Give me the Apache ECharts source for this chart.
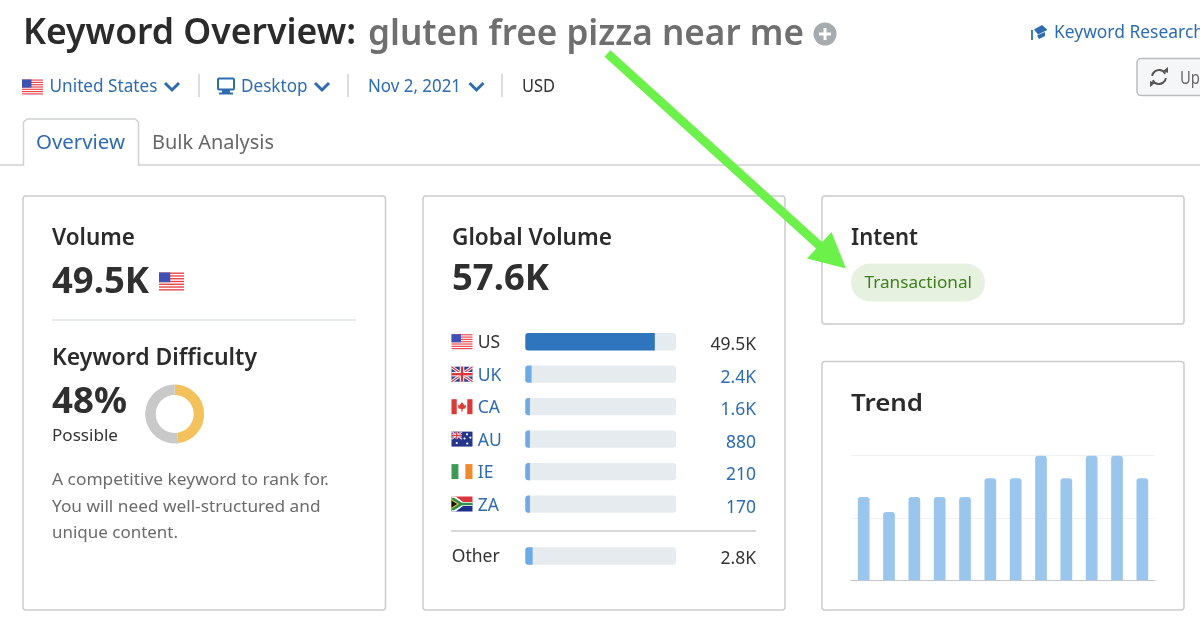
<!DOCTYPE html>
<html>
<head>
<meta charset="utf-8">
<title>Keyword Overview</title>
<script src="https://cdn.jsdelivr.net/npm/echarts@6/dist/echarts.min.js"></script>
<style>
  html, body { margin: 0; padding: 0; background: #fff; }
  #chart { width: 1200px; height: 627px; }
</style>
</head>
<body>
<div id="chart"></div>
<script>
const countries = ['US', 'UK', 'CA', 'AU', 'IE', 'ZA'];
const countryValues = [49500, 2400, 1600, 880, 210, 170];
const countryLabels = ['49.5K', '2.4K', '1.6K', '880', '210', '170'];
const otherName = ['Other'];
const otherValues = [2800];
const otherLabels = ['2.8K'];
const globalTotal = 57600;
const trendValues = [33100, 27100, 33100, 33100, 33100, 40500, 40500, 49500, 40500, 49500, 49500, 40500];
const trendTicks = [0, 24750, 49500];
const difficulty = [48, 52];

const FONT = '"Noto Sans", sans-serif';
const BLUE = '#2d6cb0';
const measure = document.createElement('canvas').getContext('2d');

// text squeezed to the width it has in the reference (no Ubuntu here)
function txt(x, y, text, size, color, weight, width) {
  measure.font = `${weight || 'normal'} ${size}px "Noto Sans"`;
  const scale = width ? width / measure.measureText(text).width : 1;
  return {
    type: 'text', x, y: y + 1.5, scaleX: scale, z: 10, silent: true,
    style: { text, fontSize: size, fontFamily: FONT, fontWeight: weight || 'normal', fill: color, verticalAlign: 'middle', align: 'left' }
  };
}

function box(x, y, w, h, fill, stroke, r, lineWidth) {
  return {
    type: 'rect', z: 1, silent: true,
    shape: { x, y, width: w, height: h, r: r || 0 },
    style: { fill: fill || 'none', stroke: stroke || 'none', lineWidth: lineWidth === undefined ? 1.5 : lineWidth }
  };
}

function seg(x1, y1, x2, y2, color, width, z) {
  return {
    type: 'line', z: z || 2, silent: true,
    shape: { x1, y1, x2, y2 },
    style: { stroke: color, lineWidth: width || 1 }
  };
}

function poly(points, fill, z) {
  return { type: 'polygon', z: z || 3, silent: true, shape: { points }, style: { fill } };
}

function chevron(x, y) {
  return {
    type: 'polyline', z: 3, silent: true,
    shape: { points: [[x, y - 3.5], [x + 7, y + 3.5], [x + 14, y - 3.5]] },
    style: { stroke: BLUE, lineWidth: 3, fill: 'none' }
  };
}

function flag(code, x, y, w, h) {
  const out = [];
  const r = (a, b, c, d, col) => out.push({ type: 'rect', z: 4, silent: true, shape: { x: x + a * w, y: y + b * h, width: c * w, height: d * h }, style: { fill: col } });
  const p = (pts, col) => out.push(poly(pts.map(q => [x + q[0] * w, y + q[1] * h]), col, 5));
  const union = (s) => {
    const l = (a, b, c, d, col, lw) => out.push({ type: 'line', z: 5, silent: true, shape: { x1: x + a * w * s, y1: y + b * h * s, x2: x + c * w * s, y2: y + d * h * s }, style: { stroke: col, lineWidth: lw * s } });
    l(0, 0, 1, 1, '#fff', 3); l(1, 0, 0, 1, '#fff', 3);
    l(0, 0, 1, 1, '#d8353f', 1.2); l(1, 0, 0, 1, '#d8353f', 1.2);
    l(0.5, 0, 0.5, 1, '#fff', 4.5); l(0, 0.5, 1, 0.5, '#fff', 4.5);
    l(0.5, 0, 0.5, 1, '#d8353f', 2.4); l(0, 0.5, 1, 0.5, '#d8353f', 2.4);
  };
  if (code === 'US') {
    r(0, 0, 1, 1, '#fff');
    for (let i = 0; i < 7; i++) r(0, i * 2 / 13, 1, 1 / 13, '#e8424a');
    r(0, 0, 0.45, 0.54, '#3f51b5');
  } else if (code === 'UK') {
    r(0, 0, 1, 1, '#2b3f8c');
    union(1);
  } else if (code === 'CA') {
    r(0, 0, 1, 1, '#fff');
    r(0, 0, 0.25, 1, '#dc3a36'); r(0.75, 0, 0.25, 1, '#dc3a36');
    p([[0.5, 0.18], [0.62, 0.42], [0.7, 0.38], [0.66, 0.62], [0.53, 0.66], [0.53, 0.82], [0.47, 0.82], [0.47, 0.66], [0.34, 0.62], [0.3, 0.38], [0.38, 0.42]], '#dc3a36');
  } else if (code === 'AU') {
    r(0, 0, 1, 1, '#24368c');
    union(0.5);
    [[0.25, 0.76], [0.74, 0.18], [0.9, 0.4], [0.62, 0.46], [0.75, 0.8]].forEach(s => {
      out.push({ type: 'circle', z: 6, silent: true, shape: { cx: x + s[0] * w, cy: y + s[1] * h, r: 1.1 }, style: { fill: '#fff' } });
    });
  } else if (code === 'IE') {
    r(0, 0, 0.34, 1, '#3c9a55'); r(0.34, 0, 0.32, 1, '#fff'); r(0.66, 0, 0.34, 1, '#f08a2e');
  } else if (code === 'ZA') {
    r(0, 0, 1, 0.5, '#d8353f'); r(0, 0.5, 1, 0.5, '#1d2f8c');
    p([[0, 0], [0.2, 0], [0.55, 0.36], [1, 0.36], [1, 0.64], [0.55, 0.64], [0.2, 1], [0, 1]], '#fff');
    p([[0, 0.08], [0.12, 0.08], [0.5, 0.42], [1, 0.42], [1, 0.58], [0.5, 0.58], [0.12, 0.92], [0, 0.92]], '#2f8f4e');
    p([[0, 0.18], [0.36, 0.5], [0, 0.82]], '#f2c230');
    p([[0, 0.27], [0.27, 0.5], [0, 0.73]], '#111');
  }
  return out;
}

const rowCentres = [341.7, 374.2, 406.7, 439.1, 471.6, 504];

const elements = [
  // page header
  txt(23, 32, 'Keyword Overview:', 36, '#2b2b2b', '600', 333),
  txt(368, 33, 'gluten free pizza near me', 36, '#6f6f6f', '600', 436),
  { type: 'circle', z: 3, silent: true, shape: { cx: 825, cy: 34, r: 11.5 }, style: { fill: '#a6abaf' } },
  seg(819, 34, 831, 34, '#fff', 3, 4),
  seg(825, 28, 825, 40, '#fff', 3, 4),

  // keyword research link
  poly([[1034, 29.5], [1042, 25], [1047.5, 30], [1038, 34.5]], BLUE),
  poly([[1037, 35.5], [1045, 32], [1045, 36], [1039, 39]], BLUE),
  seg(1032, 30, 1032, 40, BLUE, 1.8, 3),
  txt(1054, 31, 'Keyword Research', 18, BLUE, 'normal', 150),

  // update button, cut off by the right edge
  box(1137, 58.5, 80, 37, '#f5f6f7', '#b9bcbf', 4),
  { type: 'arc', z: 3, silent: true, shape: { cx: 1159, cy: 77, r: 7, startAngle: Math.PI * 1.05, endAngle: Math.PI * 1.85 }, style: { stroke: '#555', lineWidth: 2, fill: 'none' } },
  { type: 'arc', z: 3, silent: true, shape: { cx: 1159, cy: 77, r: 7, startAngle: Math.PI * 0.05, endAngle: Math.PI * 0.85 }, style: { stroke: '#555', lineWidth: 2, fill: 'none' } },
  poly([[1163, 71], [1168, 67], [1168, 73]], '#555'),
  poly([[1155, 83], [1150, 87], [1150, 81]], '#555'),
  txt(1180, 77, 'Up', 18, '#666', 'normal', 20),

  // filters row
  ...flag('US', 22, 79.5, 21, 15),
  txt(49.5, 85, 'United States', 18, BLUE, 'normal', 108),
  chevron(165, 86.5),
  seg(199, 74, 199, 97, '#cfd2d4', 1.5),
  box(218, 78.5, 16, 11, 'none', BLUE, 1, 2),
  poly([[222, 90], [230, 90], [230, 92.5], [233, 92.5], [233, 94.5], [219, 94.5], [219, 92.5], [222, 92.5]], BLUE),
  txt(241, 85, 'Desktop', 18, BLUE, 'normal', 66.5),
  chevron(315, 86.5),
  seg(348, 74, 348, 97, '#cfd2d4', 1.5),
  txt(368, 85, 'Nov 2, 2021', 18, BLUE, 'normal', 93),
  chevron(469.5, 86.5),
  seg(502, 74, 502, 97, '#cfd2d4', 1.5),
  txt(522, 85, 'USD', 18, '#333', 'normal', 33),

  // tabs
  seg(0, 165, 1200, 165, '#cfd1d3', 1.5),
  {
    type: 'polyline', z: 3, silent: true,
    shape: { points: [[23.5, 165], [23.5, 122], [27, 119], [135, 119], [138.5, 122], [138.5, 165]] },
    style: { stroke: '#cfd1d3', lineWidth: 1.5, fill: '#fff' }
  },
  seg(24.5, 165, 137.5, 165, '#fff', 2, 4),
  txt(36, 142, 'Overview', 20, BLUE, 'normal', 89),
  txt(152, 142, 'Bulk Analysis', 20, '#666', 'normal', 122),

  // cards (no fill, so the axes stay visible)
  box(23, 196, 362.5, 414, 'none', '#c9cbcd', 3),
  box(423, 196, 362, 414, 'none', '#c9cbcd', 3),
  box(822, 196, 362, 128, 'none', '#c9cbcd', 3),
  box(822, 361.5, 362, 248.5, 'none', '#c9cbcd', 3),

  // volume card
  txt(52, 237, 'Volume', 23, '#2b2b2b', '600', 83),
  txt(52, 282, '49.5K', 35, '#2f2f2f', 'bold', 97),
  ...flag('US', 159, 272.5, 25, 18),
  seg(52, 320, 356, 320, '#e1e4e6', 1.5),
  txt(52, 357, 'Keyword Difficulty', 23, '#2b2b2b', '600', 205),
  txt(52, 402, '48%', 35, '#2f2f2f', 'bold', 75),
  txt(52, 434.5, 'Possible', 17, '#333', 'normal', 66),
  txt(52, 479, 'A competitive keyword to rank for.', 17, '#6b6b6b', 'normal', 277),
  txt(52, 505.5, 'You will need well-structured and', 17, '#6b6b6b', 'normal', 268.5),
  txt(52, 532, 'unique content.', 17, '#6b6b6b', 'normal', 126),

  // global volume card
  txt(452, 237, 'Global Volume', 23, '#2b2b2b', '600', 160),
  txt(452, 279, '57.6K', 35, '#2f2f2f', 'bold', 97),
  seg(451, 531, 756, 531, '#c9cbcd', 1.5),

  // intent card
  txt(851, 237, 'Intent', 23, '#2b2b2b', '600', 67),
  box(851, 263.5, 134, 38, '#e6f2df', 'none', 19, 0),
  txt(864.5, 282, 'Transactional', 17, '#3f7e1c', 'normal', 107.5),

  // trend card
  txt(851, 403, 'Trend', 23, '#2b2b2b', '600', 72),

  // green arrow on top of everything
  seg(607.5, 53.5, 821, 247, '#6cf14a', 9, 100),
  poly([[846, 268.5], [831.5, 232], [807, 258.5]], '#6cf14a', 100)
];

countries.forEach((c, i) => {
  elements.push(...flag(c, 451.5, rowCentres[i] - 7.5, 21, 15));
});

const chart = echarts.init(document.getElementById('chart'), null, { renderer: 'canvas' });

chart.setOption({
  animation: false,
  backgroundColor: '#fff',
  textStyle: { fontFamily: FONT },
  graphic: { elements },
  grid: [
    { left: 525.3, top: 325.5, width: 150.7, height: 194.8 },
    { left: 525.3, top: 539.8, width: 150.7, height: 32.4 },
    { left: 851, top: 455.7, width: 304, height: 124.6 }
  ],
  xAxis: [
    { gridIndex: 0, type: 'value', min: 0, max: globalTotal, show: false },
    { gridIndex: 1, type: 'value', min: 0, max: globalTotal, show: false },
    {
      gridIndex: 2, type: 'category',
      axisLine: { lineStyle: { color: '#c4c6c8', width: 1 } },
      axisTick: { show: false }, axisLabel: { show: false }
    }
  ],
  yAxis: [
    {
      gridIndex: 0, type: 'category', inverse: true, data: countries,
      axisLine: { show: false }, axisTick: { show: false },
      axisLabel: {
        align: 'left', margin: 47.5, fontSize: 17.5, fontFamily: FONT, verticalAlign: 'top', lineHeight: 3,
        color: (v) => (v === 'US' ? '#333' : BLUE)
      }
    },
    {
      gridIndex: 0, type: 'category', inverse: true, position: 'right', data: countryLabels,
      axisLine: { show: false }, axisTick: { show: false },
      axisLabel: {
        align: 'right', margin: 80, fontSize: 17.5, fontFamily: FONT, verticalAlign: 'top', lineHeight: 7,
        color: (v) => (v === countryLabels[0] ? '#333' : BLUE)
      }
    },
    {
      gridIndex: 1, type: 'category', data: otherName,
      axisLine: { show: false }, axisTick: { show: false },
      axisLabel: { align: 'left', margin: 73.5, fontSize: 17.5, fontFamily: FONT, color: '#333', verticalAlign: 'top', lineHeight: 3 }
    },
    {
      gridIndex: 1, type: 'category', position: 'right', data: otherLabels,
      axisLine: { show: false }, axisTick: { show: false },
      axisLabel: { align: 'right', margin: 80, fontSize: 17.5, fontFamily: FONT, color: '#333', verticalAlign: 'top', lineHeight: 7 }
    },
    {
      gridIndex: 2, type: 'value', min: trendTicks[0], max: trendTicks[2], interval: trendTicks[1],
      axisLine: { show: false }, axisTick: { show: false }, axisLabel: { show: false },
      splitLine: { lineStyle: { color: '#eff1f2', width: 1 } }
    }
  ],
  series: [
    {
      type: 'bar', xAxisIndex: 0, yAxisIndex: 0, barWidth: 17.3, barGap: '-100%', silent: true,
      data: countries.map(() => globalTotal),
      itemStyle: { color: '#e6ebef', borderRadius: 3 }
    },
    {
      type: 'bar', xAxisIndex: 0, yAxisIndex: 0, barWidth: 17.3, barGap: '-100%', barMinHeight: 4.6, silent: true,
      data: countryValues,
      itemStyle: {
        borderRadius: [3, 0, 0, 3],
        color: (p) => (p.dataIndex === 0 ? '#2f75bd' : '#6aabe8')
      }
    },
    {
      type: 'bar', xAxisIndex: 1, yAxisIndex: 2, barWidth: 17.3, barGap: '-100%', silent: true,
      data: otherValues.map(() => globalTotal),
      itemStyle: { color: '#e6ebef', borderRadius: 3 }
    },
    {
      type: 'bar', xAxisIndex: 1, yAxisIndex: 2, barWidth: 17.3, barGap: '-100%', silent: true,
      data: otherValues,
      itemStyle: { color: '#6aabe8', borderRadius: [3, 0, 0, 3] }
    },
    {
      type: 'bar', xAxisIndex: 2, yAxisIndex: 4, barWidth: 11.7, silent: true,
      data: trendValues,
      itemStyle: { color: '#9ac5ec', borderRadius: [3, 3, 0, 0] }
    },
    {
      type: 'pie', center: [174.7, 414], radius: [19, 29.5], startAngle: 90, clockwise: true, silent: true,
      label: { show: false }, labelLine: { show: false },
      data: [
        { value: difficulty[0], itemStyle: { color: '#f4c25c' } },
        { value: difficulty[1], itemStyle: { color: '#c9c9c9' } }
      ]
    }
  ]
});
</script>
</body>
</html>
